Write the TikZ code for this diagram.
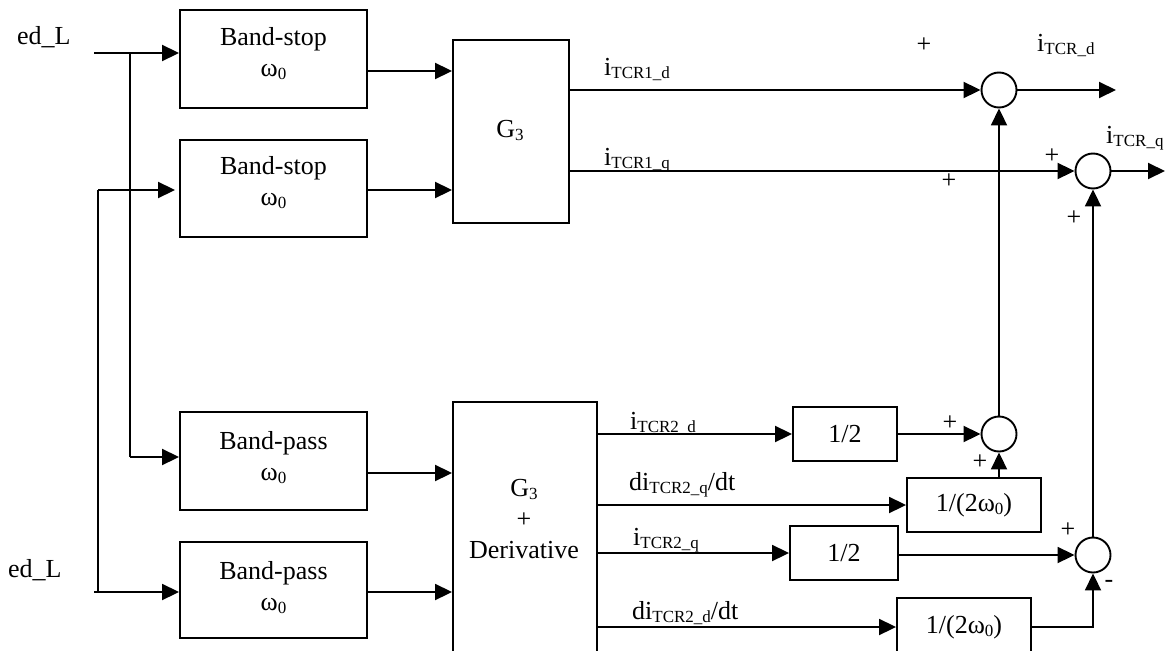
\documentclass[tikz,border=0pt]{standalone}
\usepackage{fontspec}
\setmainfont{Liberation Serif}
\usetikzlibrary{arrows.meta,calc}
\newcommand{\sbs}[1]{\raisebox{-3pt}{\fontsize{17}{17}\selectfont #1}}
\begin{document}
\begin{tikzpicture}[x=1pt,y=-1pt,
  every node/.style={font=\fontsize{26}{31}\selectfont},
  box/.style={draw, line width=1.9pt, inner sep=0pt},
  sum/.style={draw, circle, line width=1.9pt, minimum size=35pt, inner sep=0pt},
  txt/.style={inner sep=0pt, align=center},
  lbl/.style={inner sep=0pt, anchor=base west},
  sgn/.style={inner sep=0pt},
  conn/.style={line width=1.9pt, -{Triangle[length=17pt,width=16pt]}},
  wire/.style={line width=1.9pt}]
\useasboundingbox (0,0) rectangle (1166,650);
\clip (0,0) rectangle (1166,650);

% blocks
\node[box, minimum width=187pt, minimum height=98pt] (bs1) at (273.5,59) {};
\node[box, minimum width=187pt, minimum height=97pt] (bs2) at (273.5,188.5) {};
\node[box, minimum width=187pt, minimum height=98pt] (bp1) at (273.5,461) {};
\node[box, minimum width=187pt, minimum height=96pt] (bp2) at (273.5,590) {};
\node[box, minimum width=116pt, minimum height=183pt] (g3) at (511,131.5) {};
\node[box, minimum width=144pt, minimum height=270pt] (g3d) at (525,537) {};
\node[box, minimum width=104pt, minimum height=54pt] (h1) at (845,434) {1/2};
\node[box, minimum width=134pt, minimum height=54pt] (k1) at (974,505) {1/(2ω\sbs{0})};
\node[box, minimum width=108pt, minimum height=54pt] (h2) at (844,553) {1/2};
\node[box, minimum width=134pt, minimum height=58pt] (k2) at (964,627) {1/(2ω\sbs{0})};

% block texts
\node[txt] (bs1t) at (273.5,54) {Band-stop\\ω\sbs{0}};
\node[txt] (bs2t) at (273.5,183) {Band-stop\\ω\sbs{0}};
\node[txt] (bp1t) at (273.5,457.5) {Band-pass\\ω\sbs{0}};
\node[txt] (bp2t) at (273.5,587.5) {Band-pass\\ω\sbs{0}};
\node[txt, anchor=base] (g3t) at (510,137) {G\sbs{3}};
\node[txt] (g3dt) at (524,519.5) {G\sbs{3}\\+\\Derivative};

% summing junctions
\node[sum] (s1) at (999,90) {};
\node[sum] (s2) at (1093,171) {};
\node[sum] (s3) at (999,434) {};
\node[sum] (s4) at (1093,555) {};

% input labels
\node[lbl] (edl1) at (17,45) {ed\_L};
\node[lbl] (edl2) at (8,577) {ed\_L};

% signal labels
\node[lbl] (l1) at (604,76) {i\sbs{TCR1\_d}};
\node[lbl] (l2) at (604,165) {i\sbs{TCR1\_q}};
\node[lbl] (l3) at (1037,52) {i\sbs{TCR\_d}};
\node[lbl] (l4) at (1106,143) {i\sbs{TCR\_q}};
\node[lbl] (l5) at (630,429) {i\sbs{TCR2\_d}};
\node[lbl] (l6) at (629,490) {di\sbs{TCR2\_q}/dt};
\node[lbl] (l7) at (633,545) {i\sbs{TCR2\_q}};
\node[lbl] (l8) at (632,619) {di\sbs{TCR2\_d}/dt};

% signs
\node[sgn] (p1) at (924,45) {+};
\node[sgn] (p2) at (1052,156) {+};
\node[sgn] (p3) at (949,181) {+};
\node[sgn] (p4) at (1074,218) {+};
\node[sgn] (p5) at (950,423) {+};
\node[sgn] (p6) at (980,462) {+};
\node[sgn] (p7) at (1068,530) {+};
\node[sgn] (m1) at (1109,584) {-};

% coordinates
\coordinate (in1) at (94,53);
\coordinate (j1) at (130,53);
\coordinate (j1b) at (130,457);
\coordinate (in2) at (94,592);
\coordinate (j2) at (98,592);
\coordinate (j2b) at (98,190);
\coordinate (o1) at (1116,90);
\coordinate (o2) at (1165,171);
\coordinate (a1) at ($(bs1.east)+(0,12)$);
\coordinate (a3) at ($(bp1.east)+(0,12)$);

% connectors
\draw[conn] (in1) -- (in1 -| bs1.west);
\draw[wire] (j1) -- (j1b);
\draw[conn] (j1b) -- (j1b -| bp1.west);
\draw[conn] (in2) -- (in2 -| bp2.west);
\draw[wire] (j2) -- (j2b);
\draw[conn, shorten >=4pt] (j2b) -- (j2b -| bs2.west);
\draw[conn] (a1) -- (a1 -| g3.west);
\draw[conn] (bs2.east |- j2b) -- (j2b -| g3.west);
\draw[conn] (a3) -- (a3 -| g3d.west);
\draw[conn] (bp2.east |- in2) -- (in2 -| g3d.west);
\draw[conn] (g3.east |- s1.west) -- (s1.west);
\draw[conn] (g3.east |- s2.west) -- (s2.west);
\draw[conn] (s1.east) -- (o1);
\draw[conn] (s2.east) -- (o2);
\draw[conn] (s3.north) -- (s1.south);
\draw[conn] (s4.north) -- (s2.south);
\draw[conn] (g3d.east |- h1.west) -- (h1.west);
\draw[conn] (g3d.east |- k1.west) -- (k1.west);
\draw[conn] (g3d.east |- h2.west) -- (h2.west);
\draw[conn] (g3d.east |- k2.west) -- (k2.west);
\draw[conn] (s3.west -| h1.east) -- (s3.west);
\draw[conn] (k1.north -| s3.south) -- (s3.south);
\draw[conn] (s4.west -| h2.east) -- (s4.west);
\draw[conn] (k2.east) -| (s4.south);
\end{tikzpicture}
\end{document}
